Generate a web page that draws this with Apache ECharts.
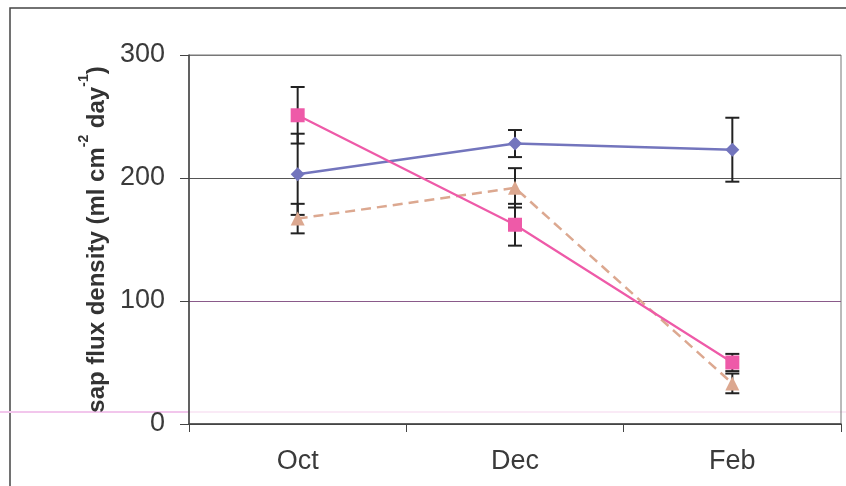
<!DOCTYPE html>
<html><head><meta charset="utf-8">
<script src="https://cdn.jsdelivr.net/npm/echarts@6/dist/echarts.min.js"></script>
<style>html,body{margin:0;padding:0;background:#fff}#c{width:846px;height:486px}</style>
</head><body><div id="c"></div>
<script>
const categories = ['Oct', 'Dec', 'Feb'];
const blueMean = [203, 228, 223];
const blueErr  = [33, 11, 26];
const pinkMean = [251, 162, 50];
const pinkErr  = [23, 17, 7];
const tanMean  = [167, 192, 33];
const tanErr   = [12, 16, 8];
const yMin = 0, yMax = 300, yStep = 100;

function errData(mean, err) {
  return mean.map((m, i) => [i, m - err[i], m + err[i]]);
}
function errSeries(mean, err) {
  return {
    type: 'custom', z: 1, silent: true,
    data: errData(mean, err),
    renderItem: function (params, api) {
      const x = api.value(0);
      const lo = api.coord([x, api.value(1)]);
      const hi = api.coord([x, api.value(2)]);
      const w = 7;
      const st = { stroke: '#222', lineWidth: 2 };
      return { type: 'group', children: [
        { type: 'line', shape: { x1: lo[0], y1: lo[1], x2: hi[0], y2: hi[1] }, style: st },
        { type: 'line', shape: { x1: lo[0] - w, y1: lo[1], x2: lo[0] + w, y2: lo[1] }, style: st },
        { type: 'line', shape: { x1: hi[0] - w, y1: hi[1], x2: hi[0] + w, y2: hi[1] }, style: st }
      ]};
    }
  };
}

const chart = echarts.init(document.getElementById('c'));
chart.setOption({
  animation: false,
  textStyle: { fontFamily: 'Liberation Sans, Arial, sans-serif' },
  grid: { left: 189, top: 55, right: 5, bottom: 62, show: true, borderColor: '#777', borderWidth: 1 },
  graphic: [
    { type: 'rect', shape: { x: 10, y: 8, width: 900, height: 600 }, style: { fill: 'none', stroke: '#444', lineWidth: 1.5 }, z: -1 },
    { type: 'line', shape: { x1: 0, y1: 412, x2: 189, y2: 412 }, style: { stroke: '#f2c6ec', lineWidth: 2 }, z: -1 },
    { type: 'line', shape: { x1: 189, y1: 412, x2: 846, y2: 412 }, style: { stroke: '#faeaf6', lineWidth: 2 }, z: -1 }
  ],
  xAxis: {
    type: 'category', data: categories, boundaryGap: true,
    axisLine: { lineStyle: { color: '#444', width: 1.5 } },
    axisTick: { show: true, length: 8, lineStyle: { color: '#444' } },
    axisLabel: { color: '#3a3a3a', fontSize: 27, margin: 24 },
    splitLine: { show: false }
  },
  yAxis: {
    type: 'value', min: yMin, max: yMax, interval: yStep,
    name: '{n|sap flux density (ml cm}{sup|-2}{n| day}{sup|-1}{n|)}',
    nameLocation: 'middle', nameGap: 76,
    nameTextStyle: { color: '#333', fontSize: 24, fontWeight: 'bold',
      rich: {
        n: { fontSize: 24, fontWeight: 'bold', color: '#333', lineHeight: 32, verticalAlign: 'bottom' },
        sup: { fontSize: 14, fontWeight: 'bold', color: '#333', lineHeight: 14, verticalAlign: 'top' }
      } },
    axisLine: { show: true, lineStyle: { color: '#444', width: 1.5 } },
    axisTick: { show: true, length: 9, lineStyle: { color: '#444' } },
    axisLabel: { color: '#3a3a3a', fontSize: 27, margin: 24 },
    splitLine: { show: true, lineStyle: { color: ['#444', '#8a5a8a', '#555', '#777'], width: 1.2 } }
  },
  series: [
    errSeries(blueMean, blueErr),
    errSeries(pinkMean, pinkErr),
    errSeries(tanMean, tanErr),
    { type: 'line', z: 3, data: blueMean, symbol: 'diamond', symbolSize: 14,
      lineStyle: { color: '#7375bd', width: 2.5 }, itemStyle: { color: '#7375bd' } },
    { type: 'line', z: 3, data: tanMean, symbol: 'triangle', symbolSize: 14,
      lineStyle: { color: '#dca890', width: 2.5, type: [10, 6] }, itemStyle: { color: '#dca890' } },
    { type: 'line', z: 4, data: pinkMean, symbol: 'rect', symbolSize: 14,
      lineStyle: { color: '#ee5aa8', width: 2.2 }, itemStyle: { color: '#ee5aa8' } }
  ]
});
</script></body></html>
